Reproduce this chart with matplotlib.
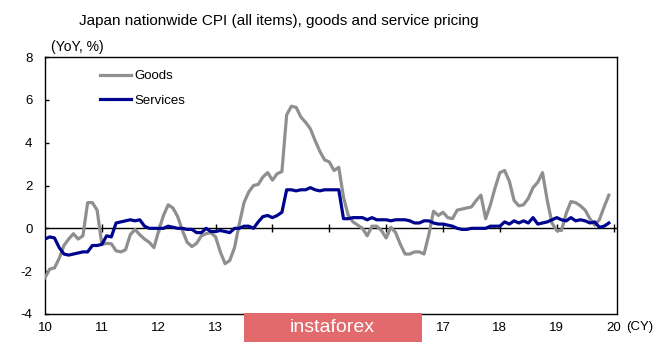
import matplotlib
matplotlib.use("Agg")
import matplotlib.pyplot as plt
import numpy as np
from matplotlib.patches import Rectangle

plt.rcParams['font.family'] = ['Liberation Sans Narrow', 'Liberation Sans', 'DejaVu Sans']

# Monthly data, Jan 2010 .. Dec 2019 (YoY %)
goods = [
    -2.3, -1.9, -1.85, -1.4, -0.8, -0.5, -0.25, -0.5, -0.35, 1.2, 1.2, 0.85,
    -0.75, -0.7, -0.72, -1.05, -1.1, -1.0, -0.3, -0.05, -0.3, -0.5, -0.65, -0.9,
    -0.1, 0.6, 1.1, 0.95, 0.55, -0.1, -0.65, -0.85, -0.7, -0.35, -0.25, -0.2,
    -0.4, -1.1, -1.65, -1.5, -0.9, 0.2, 1.2, 1.7, 2.0, 2.05, 2.4, 2.6,
    2.25, 2.55, 2.65, 5.3, 5.7, 5.65, 5.2, 4.95, 4.65, 4.1, 3.6, 3.2,
    3.1, 2.7, 2.85, 1.45, 0.6, 0.3, 0.15, 0.0, -0.35, 0.1, 0.1, -0.1,
    -0.45, 0.05, -0.2, -0.75, -1.2, -1.2, -1.1, -1.1, -1.2, -0.3, 0.8, 0.6,
    0.75, 0.5, 0.45, 0.85, 0.9, 0.95, 1.0, 1.3, 1.55, 0.45, 1.1, 1.9,
    2.6, 2.7, 2.2, 1.3, 1.05, 1.1, 1.4, 1.9, 2.15, 2.6, 1.3, 0.25,
    -0.1, -0.1, 0.7, 1.25, 1.2, 1.05, 0.85, 0.45, 0.15, 0.4, 1.0, 1.55,
]
services = [
    -0.5, -0.4, -0.45, -0.9, -1.2, -1.25, -1.2, -1.15, -1.1, -1.1, -0.8, -0.8,
    -0.75, -0.35, -0.4, 0.25, 0.3, 0.35, 0.4, 0.35, 0.4, 0.1, 0.0, 0.0,
    0.0, 0.0, 0.1, 0.05, 0.0, 0.0, -0.05, -0.05, -0.2, -0.2, 0.0, -0.15,
    -0.15, -0.1, -0.15, -0.2, 0.0, 0.0, 0.1, 0.1, 0.0, 0.3, 0.55, 0.6,
    0.5, 0.6, 0.75, 1.8, 1.8, 1.75, 1.8, 1.8, 1.9, 1.8, 1.75, 1.8,
    1.8, 1.8, 1.8, 0.45, 0.45, 0.5, 0.5, 0.5, 0.4, 0.5, 0.4, 0.4,
    0.4, 0.35, 0.4, 0.4, 0.4, 0.35, 0.25, 0.25, 0.35, 0.35, 0.25, 0.2,
    0.2, 0.15, 0.1, 0.0, -0.05, -0.05, 0.0, 0.0, 0.0, 0.0, 0.1, 0.1,
    0.1, 0.3, 0.2, 0.35, 0.25, 0.35, 0.25, 0.5, 0.2, 0.25, 0.3, 0.4,
    0.5, 0.4, 0.35, 0.5, 0.35, 0.4, 0.35, 0.25, 0.3, 0.05, 0.1, 0.25,
]
year_ticks = list(range(10, 21))
# labels 14-16 are hidden under the watermark in the reference
year_labels = ['10', '11', '12', '13', '', '', '', '17', '18', '19', '20']
y_ticks = [-4, -2, 0, 2, 4, 6, 8]

title = "Japan nationwide CPI (all items), goods and service pricing"

x = 10 + np.arange(len(goods)) / 12.0

fig = plt.figure(figsize=(6.65, 3.44), dpi=100)
ax = fig.add_axes([45/665, 1-314/344, (617-45)/665, (314-57)/344])

ax.plot(x, goods, color='#8f8f8f', lw=2.3, solid_joinstyle='round', label='Goods', zorder=3)
ax.plot(x, services, color='#00058f', lw=2.3, solid_joinstyle='round', label='Services', zorder=4)

ax.axhline(0, color='black', lw=1.0, zorder=2)
ax.plot(year_ticks[1:], [0]*len(year_ticks[1:]), linestyle='none', marker='|',
        markersize=6, color='black', mew=1.0, zorder=2)

ax.set_xlim(10, 20.06)
ax.set_ylim(-4, 8)
ax.set_yticks(y_ticks)
ax.set_yticklabels([str(v) for v in y_ticks], fontsize=9.5)
ax.set_xticks(year_ticks)
ax.set_xticklabels(year_labels, fontsize=9.5)
ax.tick_params(axis='x', length=0, pad=6)
ax.tick_params(axis='y', length=3, width=1, direction='in', pad=9)
for s in ax.spines.values():
    s.set_linewidth(1.0)
    s.set_color('black')

leg = ax.legend(loc='upper left', bbox_to_anchor=(0.075, 0.995), frameon=False,
                fontsize=9.5, handlelength=2.4, handletextpad=0.2, labelspacing=0.9)

fig.text(79/665, 1-21/344, title, fontsize=11, va='center', ha='left')
fig.text(51/665, 1-47/344, "(YoY, %)", fontsize=10, va='center', ha='left')
fig.text(626/665, 1-327/344, "(CY)", fontsize=9.5, va='center', ha='left')

# watermark
fig.patches.append(Rectangle((244/665, 2/344), (422-244)/665, 29/344, transform=fig.transFigure,
                             facecolor='#e36a6c', edgecolor='none', zorder=10))
fig.text(332/665, 16/344, "instaforex", fontsize=14, color='white', ha='center', va='center', zorder=11)

fig.savefig('out.png', dpi=100)
